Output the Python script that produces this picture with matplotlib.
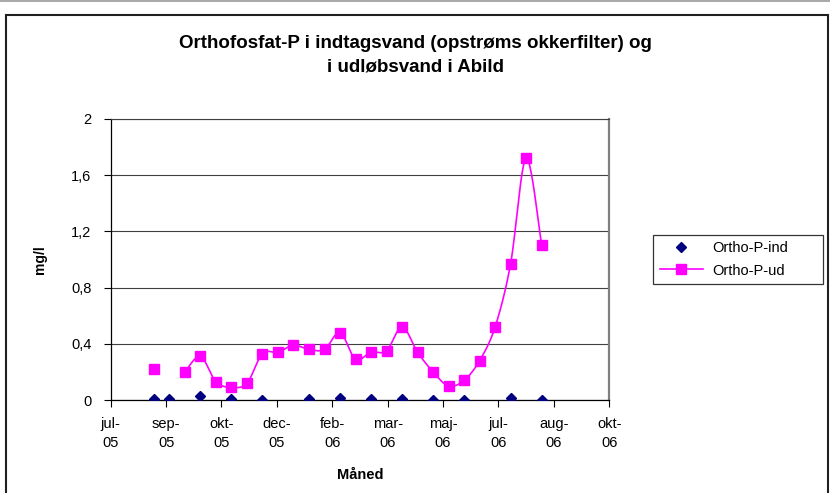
import numpy as np
import matplotlib
matplotlib.use("Agg")
import matplotlib.pyplot as plt
import matplotlib.dates as mdates
from matplotlib.lines import Line2D
from matplotlib.patches import Rectangle

plt.rcParams['font.family'] = ['Liberation Sans', 'DejaVu Sans']

# Prøvetagningsdatoer (ca. hver 14. dag)
dates = np.array([
    '2005-08-28', '2005-09-11', '2005-09-25', '2005-10-09', '2005-10-23',
    '2005-11-06', '2005-11-20', '2005-12-04', '2005-12-18', '2006-01-01',
    '2006-01-15', '2006-01-29', '2006-02-12', '2006-02-26', '2006-03-12',
    '2006-03-26', '2006-04-09', '2006-04-23', '2006-05-07', '2006-05-21',
    '2006-06-04', '2006-06-18', '2006-07-02', '2006-07-16', '2006-07-30',
    '2006-08-13'], dtype='datetime64[D]')

nan = np.nan
ortho_ind = [0.005, 0.005, nan, 0.03, nan, 0.01, nan, 0.0, nan, nan,
             0.01, nan, 0.015, nan, 0.005, nan, 0.01, nan, 0.0, nan,
             0.0, nan, nan, 0.015, nan, 0.0]
ortho_ud = [0.22, nan, 0.20, 0.31, 0.13, 0.09, 0.12, 0.33, 0.34, 0.39,
            0.36, 0.36, 0.48, 0.29, 0.34, 0.35, 0.52, 0.34, 0.20, 0.10,
            0.14, 0.28, 0.52, 0.97, 1.72, 1.10]

tick_dates = np.array(['2005-07-20', '2005-09-08', '2005-10-28', '2005-12-17',
                       '2006-02-05', '2006-03-27', '2006-05-16', '2006-07-05',
                       '2006-08-24', '2006-10-13'], dtype='datetime64[D]')
tick_labels = ['jul-\n05', 'sep-\n05', 'okt-\n05', 'dec-\n05', 'feb-\n06',
               'mar-\n06', 'maj-\n06', 'jul-\n06', 'aug-\n06', 'okt-\n06']
y_ticks = [0, 0.4, 0.8, 1.2, 1.6, 2]
y_labels = ['0', '0,4', '0,8', '1,2', '1,6', '2']


def excel_smooth(x, y, n=24):
    """Glat kurve som i Excel (Bezier med 1/6 tangenter), brud ved tomme værdier."""
    x = np.asarray(x, float)
    y = np.asarray(y, float)
    xs, ys = [], []
    ok = ~np.isnan(y)
    i = 0
    while i < len(y):
        if not ok[i]:
            i += 1
            continue
        j = i
        while j + 1 < len(y) and ok[j + 1]:
            j += 1
        px, py = x[i:j + 1], y[i:j + 1]
        m = len(px)
        if m > 1:
            for k in range(m - 1):
                k0 = max(k - 1, 0)
                k3 = min(k + 2, m - 1)
                p0 = np.array([px[k], py[k]])
                p1 = np.array([px[k + 1], py[k + 1]])
                c1 = p0 + (p1 - np.array([px[k0], py[k0]])) / 6
                c2 = p1 - (np.array([px[k3], py[k3]]) - p0) / 6
                t = np.linspace(0, 1, n)[:, None]
                b = ((1 - t) ** 3 * p0 + 3 * (1 - t) ** 2 * t * c1
                     + 3 * (1 - t) * t ** 2 * c2 + t ** 3 * p1)
                xs.extend(b[:, 0])
                ys.extend(b[:, 1])
            xs.append(nan)
            ys.append(nan)
        i = j + 1
    return np.array(xs), np.array(ys)


fig = plt.figure(figsize=(8.3, 4.93), dpi=100)
fig.patch.set_facecolor('white')

# ramme om diagrammet
fig.add_artist(Rectangle((5.5 / 830, -0.05), 822.5 / 830, 1 - 15.5 / 493 + 0.05,
                         transform=fig.transFigure, fill=False,
                         edgecolor='#202020', linewidth=1.5))
fig.add_artist(Line2D([0, 1], [1 - 0.8 / 493, 1 - 0.8 / 493], transform=fig.transFigure,
                      color='#999999', linewidth=1.2))

ax = fig.add_axes([110.7 / 830, 93 / 493, 498.5 / 830, 281 / 493])

xnum = mdates.date2num(dates)
sx, sy = excel_smooth(xnum, ortho_ud)
ax.plot(sx, sy, color='#FF00FF', linewidth=1.2, zorder=3)
ax.plot(xnum, ortho_ud, linestyle='none', marker='s', markersize=7.2,
        color='#FF00FF', markeredgecolor='#FF00FF', zorder=4)
ax.plot(xnum, ortho_ind, linestyle='none', marker='D', markersize=5.5,
        color='#000080', markeredgecolor='#000080', zorder=5)

ax.set_xlim(mdates.date2num(tick_dates[0]), mdates.date2num(tick_dates[-1]))
ax.set_ylim(0, 2)
ax.set_xticks(mdates.date2num(tick_dates))
ax.set_xticklabels(tick_labels, fontsize=10.5, linespacing=1.45)
ax.set_yticks(y_ticks)
ax.set_yticklabels(y_labels, fontsize=10.5)
ax.tick_params(axis='x', direction='out', length=5, width=0.8, pad=7)
ax.tick_params(axis='y', direction='out', length=5, width=0.8, pad=9)

ax.grid(axis='y', color='#404040', linewidth=0.8)
ax.set_axisbelow(True)
for s in ['left', 'bottom']:
    ax.spines[s].set_color('black')
    ax.spines[s].set_linewidth(0.9)
ax.spines['top'].set_color('#404040')
ax.spines['top'].set_linewidth(0.8)
ax.spines['right'].set_color('#808080')
ax.spines['right'].set_linewidth(1.6)

ax.set_xlabel('Måned', fontsize=10.5, fontweight='bold', labelpad=13)
ax.set_ylabel('mg/l', fontsize=10, fontweight='bold', labelpad=17)

fig.text(0.5, 1 - 43 / 493, 'Orthofosfat-P i indtagsvand (opstrøms okkerfilter) og',
         ha='center', va='center', fontsize=13.5, fontweight='bold')
fig.text(0.5, 1 - 67 / 493, 'i udløbsvand i Abild',
         ha='center', va='center', fontsize=13.5, fontweight='bold')

handles = [
    Line2D([], [], linestyle='none', marker='D', markersize=5.5,
           color='#000080', label='Ortho-P-ind'),
    Line2D([], [], color='#FF00FF', linewidth=1.2, marker='s', markersize=7.2,
           label='Ortho-P-ud'),
]
leg = fig.legend(handles=handles, loc='center left', mode='expand',
                 bbox_to_anchor=(653 / 830, 1 - 259.5 / 493, 170 / 830, 0),
                 fontsize=10.5, frameon=True, fancybox=False, handlelength=3,
                 borderpad=0.45, labelspacing=0.55, handletextpad=0.6,
                 borderaxespad=0)
leg.get_frame().set_edgecolor('black')
leg.get_frame().set_linewidth(0.9)

fig.savefig('out.png', dpi=100)
